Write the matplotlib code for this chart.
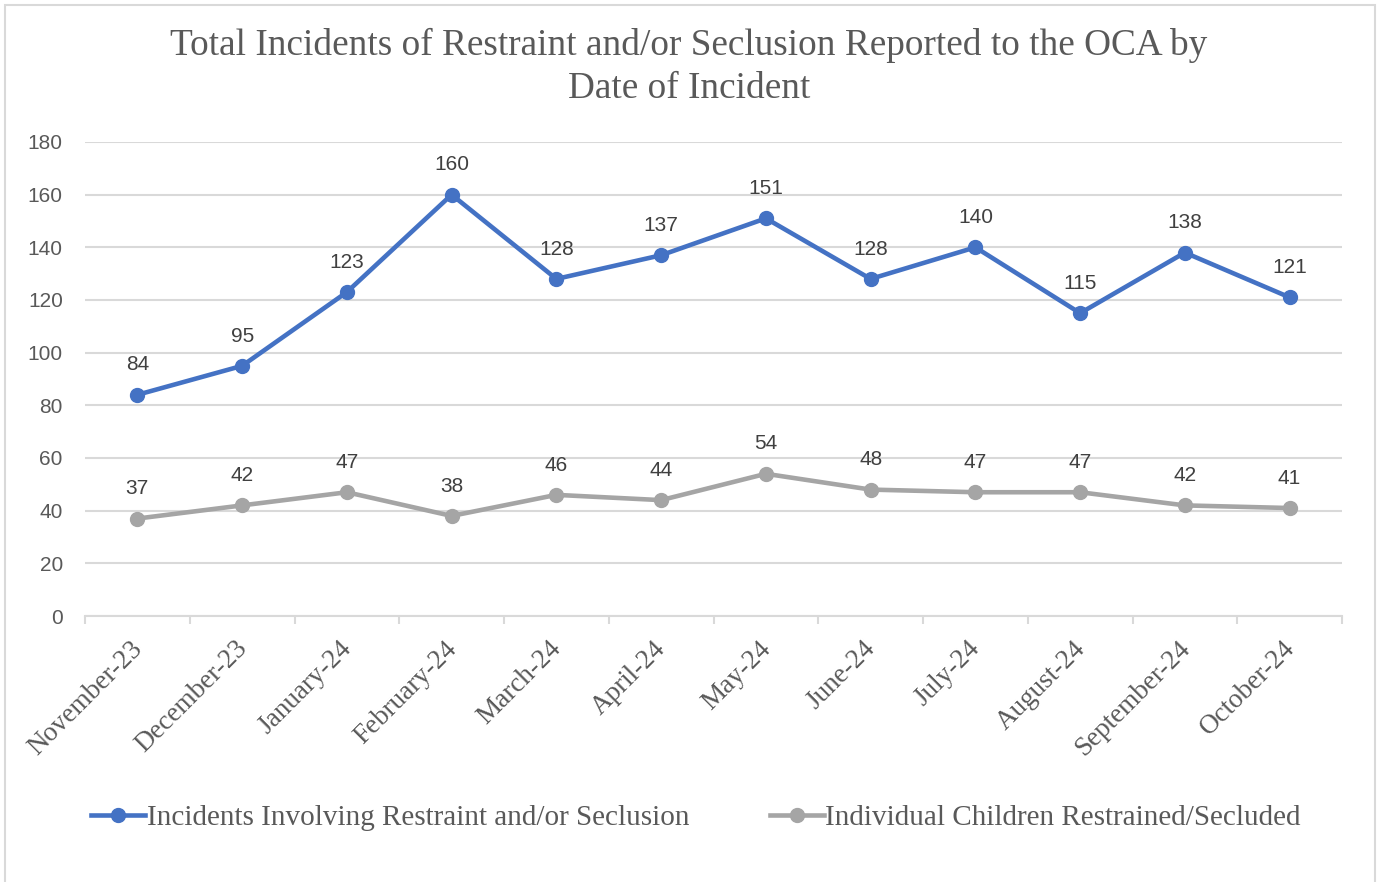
import matplotlib.pyplot as plt
from matplotlib.patches import Rectangle
from matplotlib.transforms import ScaledTranslation

months = ["November-23", "December-23", "January-24", "February-24", "March-24", "April-24",
          "May-24", "June-24", "July-24", "August-24", "September-24", "October-24"]
incidents = [84, 95, 123, 160, 128, 137, 151, 128, 140, 115, 138, 121]
children = [37, 42, 47, 38, 46, 44, 54, 48, 47, 47, 42, 41]

blue = "#4472C4"
gray = "#A5A5A5"
grid_col = "#D9D9D9"
txt = "#595959"

fig = plt.figure(figsize=(13.78, 8.82), dpi=100)
fig.patches.append(Rectangle((5 / 1378, -0.01), 1370 / 1378, 1 - 5 / 882 + 0.01,
                             transform=fig.transFigure, fill=False,
                             edgecolor=grid_col, linewidth=1.5))
ax = fig.add_axes([85 / 1378, 1 - 616 / 882, 1257 / 1378, 474 / 882])

xs = [i + 0.5 for i in range(len(months))]
l1, = ax.plot(xs, incidents, color=blue, lw=3.3, marker="o", ms=10,
              label="Incidents Involving Restraint and/or Seclusion", zorder=3)
l2, = ax.plot(xs, children, color=gray, lw=3.3, marker="o", ms=10,
              label="Individual Children Restrained/Secluded", zorder=3)

for x, v in zip(xs, incidents):
    ax.annotate(str(v), (x, v), xytext=(0, 17.5), textcoords="offset points",
                ha="center", va="baseline", fontsize=15, color="#404040",
                family="Liberation Sans")
for x, v in zip(xs, children):
    ax.annotate(str(v), (x, v), xytext=(0, 17.5), textcoords="offset points",
                ha="center", va="baseline", fontsize=15, color="#404040",
                family="Liberation Sans")

ax.set_xlim(0, 12)
ax.set_ylim(0, 180)
ax.set_yticks(range(0, 181, 20))
ax.yaxis.grid(True, color=grid_col, lw=1.5)
ax.set_axisbelow(True)
for s in ["top", "right", "left"]:
    ax.spines[s].set_visible(False)
ax.spines["bottom"].set_color(grid_col)
ax.spines["bottom"].set_linewidth(1.5)

ax.set_xticks(xs)
ax.set_xticklabels(months, rotation=45, ha="right", va="top",
                   fontsize=19.5, color=txt, family="Liberation Serif")
ax.set_xticks(range(0, 13), minor=True)
ax.tick_params(axis="x", which="major", length=0, pad=14.5)
ax.tick_params(axis="x", which="minor", length=6, color=grid_col, width=1.5)
ax.tick_params(axis="y", length=0, pad=16, labelsize=15, labelcolor=txt)
for lab in ax.get_yticklabels():
    lab.set_family("Liberation Sans")
# nudge the slanted month labels to the right, like the original
shift = ScaledTranslation(10 / 100, 0, fig.dpi_scale_trans)
for lab in ax.get_xticklabels():
    lab.set_transform(lab.get_transform() + shift)

fig.text(0.5, 1 - 67 / 882,
         "Total Incidents of Restraint and/or Seclusion Reported to the OCA by\nDate of Incident",
         ha="center", va="center", fontsize=26.8, color=txt, family="Liberation Serif",
         linespacing=1.33)

fig.legend(handles=[l1, l2], loc="center", bbox_to_anchor=(0.5 + 7 / 1378, 1 - 818 / 882),
           ncol=2, frameon=False, prop={"family": "Liberation Serif", "size": 21},
           labelcolor=txt, handlelength=1.85, handletextpad=0.05, columnspacing=2.75)

fig.savefig("out.png", dpi=100)
